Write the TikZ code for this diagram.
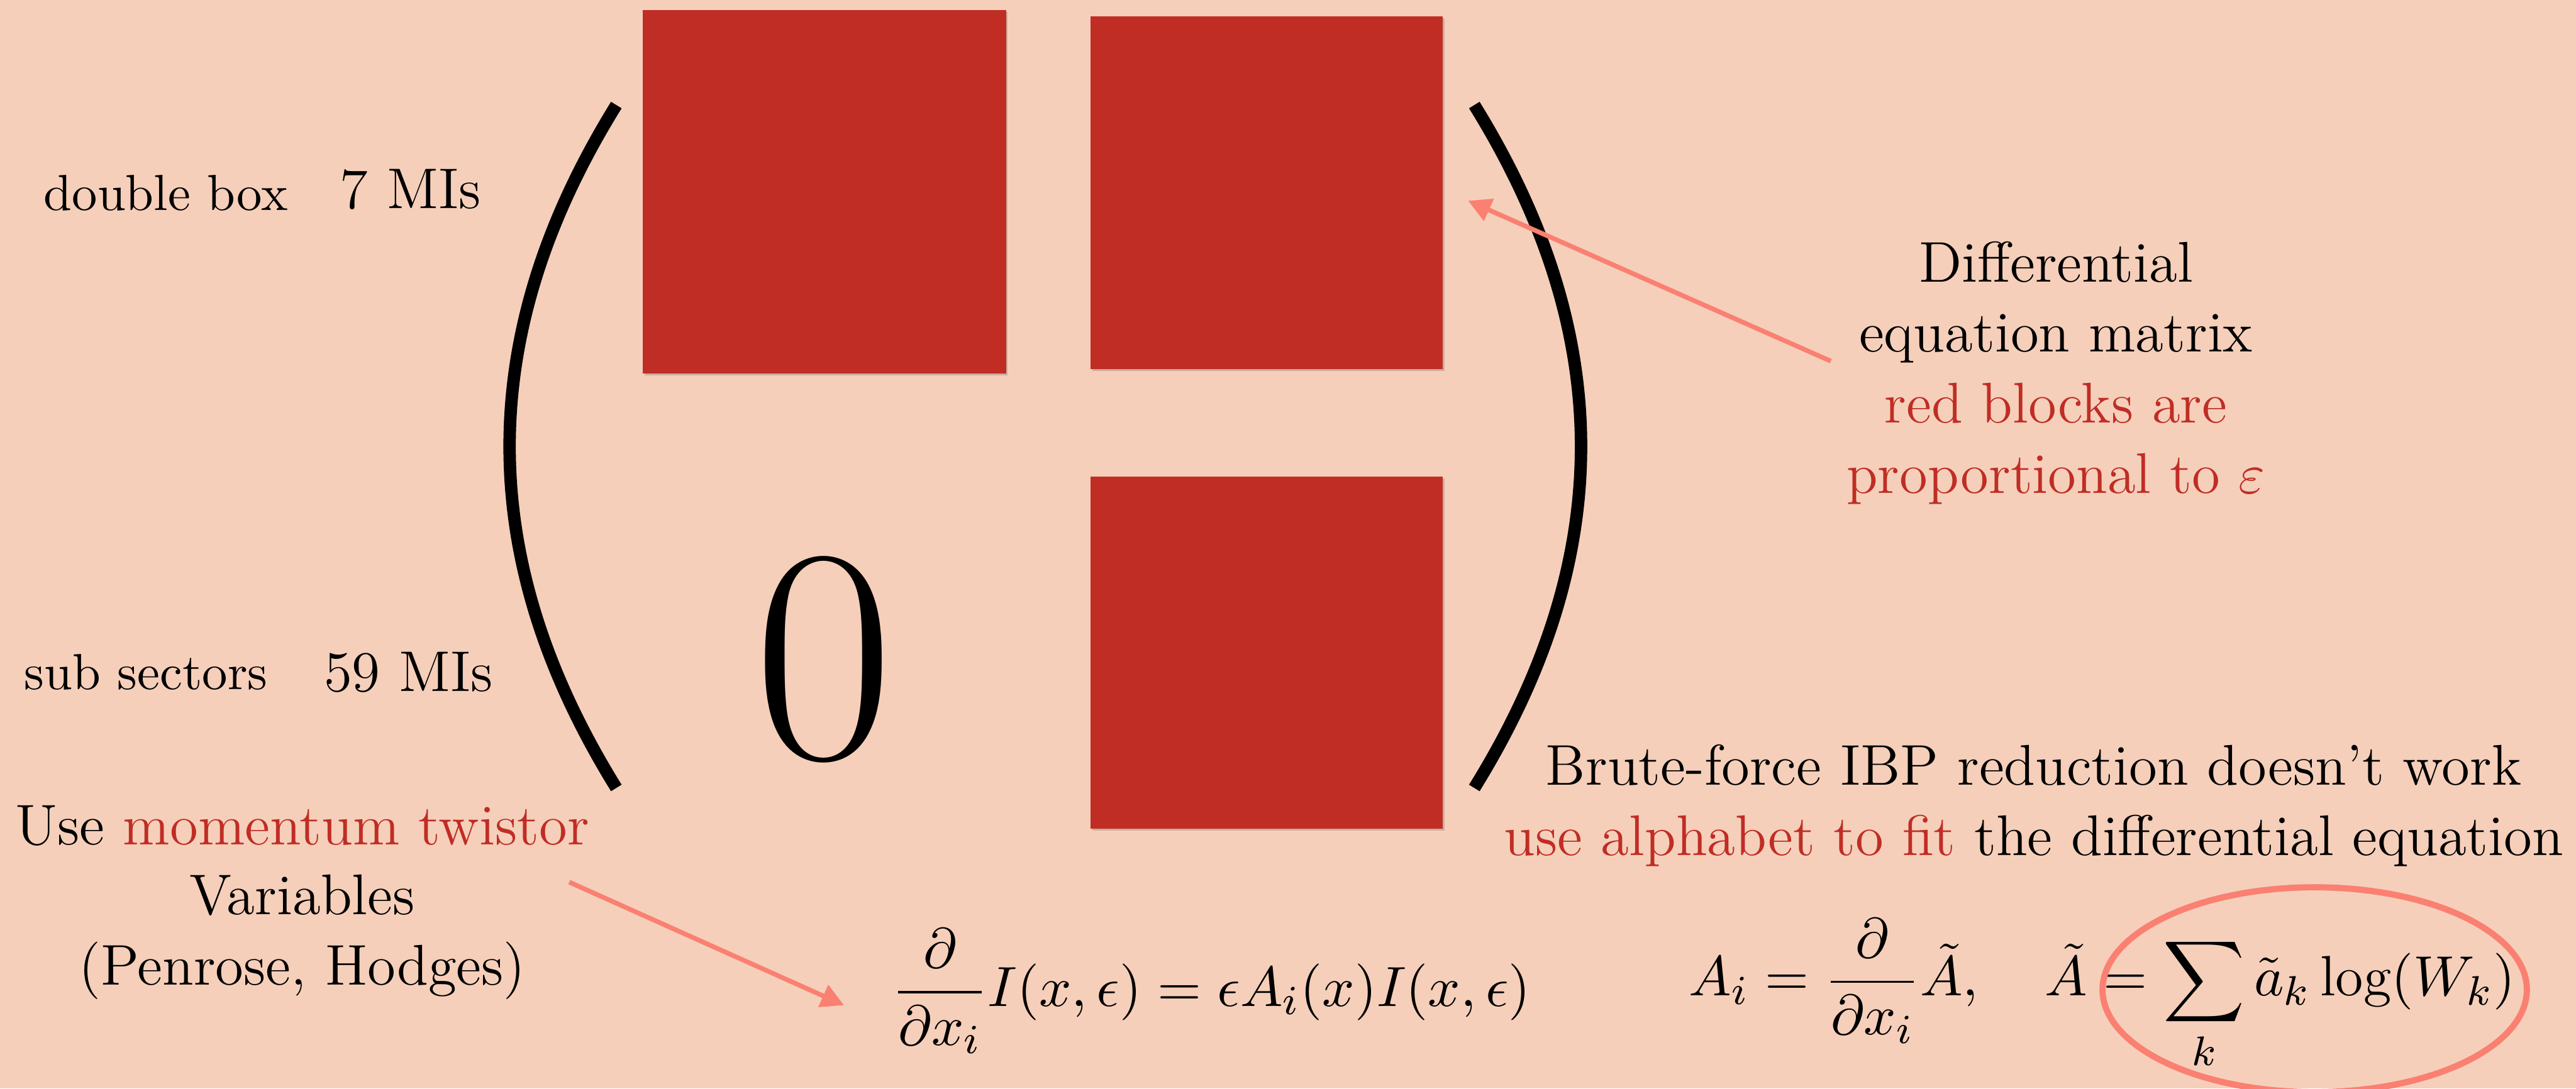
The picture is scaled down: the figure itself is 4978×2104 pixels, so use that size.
\documentclass[tikz,border=0pt]{standalone}
\usepackage{fontspec}
\usepackage{amsmath}
\usetikzlibrary{arrows.meta,shadows}
\definecolor{bg}{RGB}{245,207,186}
\definecolor{blockred}{RGB}{192,45,37}
\definecolor{salmonc}{RGB}{250,128,114}
\begin{document}
\begin{tikzpicture}[x=0.1pt,y=-0.1pt,
  txt/.style={anchor=base, inner sep=0pt, font=\fontsize{11.1}{13}\selectfont},
  smalltxt/.style={anchor=base west, inner sep=0pt, font=\fontsize{9.8}{12}\selectfont},
  mitxt/.style={anchor=base west, inner sep=0pt, font=\fontsize{11.1}{13}\selectfont},
  block/.style={fill=blockred, draw=none, inner sep=0pt,
    drop shadow={shadow xshift=0.35pt, shadow yshift=-0.35pt, opacity=0.25, fill=black!70}},
  paren/.style={line width=2.4pt, black},
  pointer/.style={salmonc, line width=0.9pt, -{Triangle[length=4.4pt,width=4.5pt]}},
  ring/.style={draw=salmonc, line width=1.2pt},
  eqtxt/.style={anchor=base west, inner sep=0pt, font=\fontsize{11}{13}\selectfont}]
\useasboundingbox (0,0) rectangle (4978,2104);
\fill[bg] (0,0) rectangle (4978,2104);

% blocks
\node[block, minimum width=70.2pt, minimum height=70.3pt] (b1) at (1593,370.5) {};
\node[block, minimum width=68.1pt, minimum height=68.1pt] (b2) at (2447.5,372.5) {};
\node[block, minimum width=68.1pt, minimum height=68.1pt] (b3) at (2447.5,1261.5) {};
\node[anchor=base, inner sep=0pt, font=\fontsize{59}{60}\selectfont] (zero) at (1592,1465) {0};

% parentheses
\draw[paren] (1191,203) .. controls (916,647) and (916,1079) .. (1191,1523);
\draw[paren] (2849,203) .. controls (3124,647) and (3124,1079) .. (2849,1523);

% left labels
\node[smalltxt] (db) at (83,407) {double box};
\node[mitxt] (mi7) at (655,403) {7 MIs};
\node[smalltxt] (ss) at (45,1332) {sub sectors};
\node[mitxt] (mi59) at (624,1336) {59 MIs};

% right upper text
\node[txt] (r1) at (3973,545) {Differential};
\node[txt] (r2) at (3973,680) {equation matrix};
\node[txt, text=blockred] (r3) at (3973,817) {red blocks are};
\node[txt, text=blockred] (r4) at (3973,953) {proportional to $\varepsilon$};

% brute force text
\node[txt] (bf1) at (3930,1517) {Brute-force IBP reduction doesn't work};
\node[txt] (bf2) at (3930,1653) {\textcolor{blockred}{use alphabet to fit} the differential equation};

% left bottom text
\node[txt] (u1) at (584,1633) {Use \textcolor{blockred}{momentum twistor}};
\node[txt] (u2) at (584,1768) {Variables};
\node[txt] (u3) at (584,1904) {(Penrose, Hodges)};

% equations
\node[eqtxt] (eq1) at (1722,1945) {$\displaystyle \frac{\partial}{\partial x_i} I(x,\epsilon) = \epsilon A_i(x) I(x,\epsilon)$};
\node[eqtxt] (eq2) at (3262,1925) {$\displaystyle A_i = \frac{\partial}{\partial x_i}\tilde{A}, \quad \tilde{A} = \sum_k \tilde{a}_k \log(W_k)$};

% ellipse highlight
\coordinate (circc) at (4473,1913);
\draw[ring] (circc) ellipse [x radius=410, y radius=198];

% pointers
\coordinate (a1s) at (3538,698);
\coordinate (a1e) at (2837,388);
\draw[pointer] (a1s) -- (a1e);
\coordinate (a2s) at (1100,1705);
\coordinate (a2e) at (1631,1943);
\draw[pointer] (a2s) -- (a2e);
\end{tikzpicture}
\end{document}
